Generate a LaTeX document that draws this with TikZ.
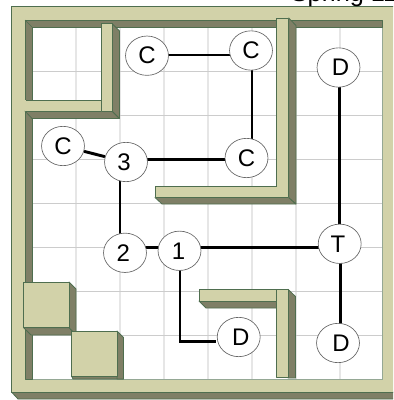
\documentclass[tikz,border=0pt]{standalone}
\usepackage{fontspec}
\setmainfont{Liberation Sans}
\usetikzlibrary{shapes.geometric}
\definecolor{face}{HTML}{D2D2A9}
\definecolor{shade}{HTML}{7F7F66}
\definecolor{edge}{HTML}{4F6E4F}
\definecolor{gridv}{HTML}{E6E6E6}
\definecolor{gridh}{HTML}{CCCCCC}
\pgfdeclarelayer{top}
\pgfsetlayers{main,top}
\tikzset{
  wallface/.style={fill=face,draw=edge,line width=0.6pt,line join=round},
  wallshade/.style={fill=shade,draw=edge,line width=0.6pt,line join=round},
  vline/.style={gridv,line width=1.1pt},
  hline/.style={gridh,line width=0.7pt},
  station/.style={ellipse,draw=black!60,line width=0.5pt,fill=white,minimum width=32.2pt,minimum height=29.5pt,inner sep=0pt,font=\fontsize{18}{18}\selectfont},
  conn/.style={black,line width=2.2pt}
}
\begin{document}
\begin{tikzpicture}[x=0.75pt,y=-0.75pt]
\useasboundingbox (0,0) rectangle (393,400);
\clip (0,0) rectangle (393,400);
\begin{pgfonlayer}{top}
\node[station] (c1) at (147,55.7) {C};
\node[station] (c2) at (251,50.5) {C};
\node[station] (dt) at (338.5,67.5) {\kern3pt D};
\node[station] (c3) at (246.5,158) {C};
\node[station] (c4) at (63,146) {C};
\node[station] (n3) at (126,162) {\kern-3pt 3};
\node[station] (n2) at (125,252.8) {\kern-2.5pt 2};
\node[station] (n1) at (179.5,250.8) {\kern-1.5pt 1};
\node[station] (tt) at (339.7,243.8) {\kern-2.5pt T};
\node[station] (dl) at (238.7,337) {\kern3pt D};
\node[station] (dr) at (338,343) {\kern4.5pt D};
\end{pgfonlayer}
% grid
\foreach \x in {76,120,164,208,252,296,340} \draw[vline] (\x,27) -- (\x,379);
\foreach \y in {71,115,159,203,247,291,335} \draw[hline] (32,\y) -- (382,\y);
% connectors
\draw[conn] (c1 |- 0,55) -- (c2 |- 0,55);
\draw[conn] (252,0 |- c2) -- (252,0 |- c3);
\draw[conn] (n3 |- 0,159.5) -- (c3 |- 0,159.5);
\draw[conn] (c4) -- (n3);
\draw[conn] (120,0 |- n3) -- (120,0 |- n2);
\draw[conn] (n2 |- 0,247.5) -- (n1 |- 0,247.5);
\draw[conn] (n1 |- 0,247.5) -- (tt |- 0,247.5);
\draw[conn] (339.7,0 |- dt) -- (339.7,0 |- tt);
\draw[conn] (340.7,0 |- tt) -- (340.7,0 |- dr);
\draw[conn,shorten >=17pt] (180,0 |- n1) -- (180,341.7) -- (dl |- 0,341.7);
% outer frame
\draw[wallshade] (11.5,392) -- (18,399) -- (400,399) -- (400,392) -- cycle;
\fill[face] (11.5,6) -- (400,6) -- (400,392) -- (11.5,392) -- cycle
  (25,20) -- (25,379) -- (382,379) -- (382,20) -- cycle;
\draw[edge,line width=0.7pt] (400,6) -- (11.5,6) -- (11.5,392) -- (400,392);
\draw[edge!60!white,line width=0.6pt] (382,20) -- (382,379) -- (32,379);
% inner frame shade
\draw[wallshade] (25,20) -- (382,20) -- (382,27) -- (32,27) -- (32,379) -- (25,379) -- cycle;
\draw[edge,line width=0.5pt] (25,20) -- (32,27);
% top-left room
\draw[wallshade] (25,111) -- (112,111) -- (119.5,118.5) -- (32,118.5) -- cycle;
\draw[wallshade] (112,23.5) -- (119.5,31) -- (119.5,118.5) -- (112,111) -- cycle;
\draw[wallface] (101,23.5) rectangle (112,111.5);
\draw[wallface] (101,111.5) -- (25,111.5) -- (25,100) -- (101,100);
\fill[face] (25,100.4) rectangle (26,111.1);
% centre wall
\draw[wallshade] (155,197.5) -- (288.7,197.5) -- (296,204) -- (162,204) -- cycle;
\draw[wallshade] (288.7,18) -- (296,25.5) -- (296,204) -- (288.7,197.5) -- cycle;
\draw[wallface] (155,186) rectangle (288.7,197.5);
\draw[wallface] (276.5,18) rectangle (288.7,186);
\fill[face] (277,185) rectangle (288.2,187);
% lower wall
\draw[wallshade] (199,301) -- (276.5,301) -- (276.5,308) -- (206,308) -- cycle;
\draw[wallface] (199,289.3) rectangle (276.5,301);
\draw[wallshade] (288,289.3) -- (295.5,296.5) -- (295.5,378) -- (288,378) -- cycle;
\draw[wallface] (276.5,289.3) rectangle (288,377.7);
% blocks
\draw[wallshade] (23.5,327.6) -- (69,327.6) -- (76,335) -- (31,335) -- cycle;
\draw[wallshade] (69,282) -- (76,289) -- (76,335) -- (69,327.6) -- cycle;
\draw[wallface] (23.5,282) rectangle (69,327.6);
\draw[wallshade] (71.5,376) -- (117,376) -- (123.5,379) -- (73,379) -- cycle;
\draw[wallshade] (117,331) -- (123.5,337.5) -- (123.5,379) -- (117,379) -- cycle;
\draw[wallface] (71.5,331) rectangle (117,376);
\node[anchor=base west,inner sep=0pt,font=\fontsize{19}{19}\selectfont] (title) at (290.5,1) {Spring 11};
\end{tikzpicture}
\end{document}
